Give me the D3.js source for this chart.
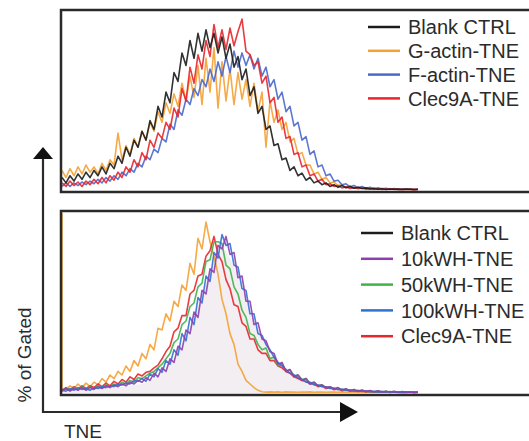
<!DOCTYPE html>
<html>
<head>
<meta charset="utf-8">
<script src="https://cdn.jsdelivr.net/npm/d3@7/dist/d3.min.js"></script>
<style>
body{margin:0;background:#fff;}
svg{display:block;}
text{font-family:"Liberation Sans", Arial, sans-serif; fill:#2b2b2b;}
</style>
</head>
<body>
<svg id="chart" width="529" height="441"></svg>
<script>
"use strict";

//
//	Histogram counts (% of max), one value per channel
//
var topBlank = [7,4,8,5,9,6,10,7,11,8, 13,9,15,12,19,15,24,19,28,24, 33,28,39,34,47,41,55,49,66,61,
	77,70,84,74,88,78,90,80,88,77, 86,74,82,69,75,62,68,53,58,43, 47,34,36,25,26,17,18,11,13,8,
	9.5,5.5,7,4,5,3,4,2,3,1.5, 2.5,1.2,2,1,1.5,0.8,1.2,0.6,0.9,0.4, 0.7,0.3,0.6,0.4,0.5,0.3,0.5,0.4,0.3,0.4];
var topGactin = [11,7,12,8,13,9,14,10,13,9, 15,11,17,14,32,17,25,20,29,24, 33,28,38,33,44,38,49,43,54,47,
	60,50,64,52,70,48,74,55,80,46, 72,50,68,48,66,51,62,47,60,44, 55,24,50,38,45,34,38,27,29,20,
	21,14,14,9,10,6,7,4,4.5,2.5, 3,1.5,2.2,1,1.6,0.8,1.2,0.6,0.9,0.4, 1.0,0.5,0.8,0.3,0.6,0.4,0.5,0.3,0.4,0.3];
var topFactin = [2,4,2,4,2.5,4.5,3,5,3.5,6, 4,7,5,8,6,10,8,12,10,15, 13,19,17,23,21,29,27,37,34,45,
	42,51,48,57,53,62,58,68,61,72, 64,75,66,78,69,77,70,76,68,74, 64,69,58,62,51,55,44,47,36,38,
	28,30,20,22,13,14,8,9,5,5.5, 3,3.5,1.8,2.5,1.2,2,0.8,1.5,0.6,1.2, 0.5,1,0.4,0.8,0.3,0.6,0.4,0.5,0.3,0.4];
var topClec = [4,2,5,2.5,4.5,2,5,3,6,3.5, 7,4,8,5.5,10,7,13,10,17,13, 21,17,28,24,32,29,38,34,46,41,
	57,50,69,60,76,68,84,75,93,80, 90,79,91,81,89,96,78,76,70,72, 60,64,49,52,38,41,29,30,20,21,
	13,14,8,9,5,6,3,3.5,2,2.5, 1.2,1.8,0.9,1.4,0.7,1.1,0.5,0.9,0.4,0.7, 0.3,0.6,0.4,0.5,0.3,0.4,0.3,0.4,0.2,0.3];

var botBlank = [1,1,1.2,1.2,1.4,1.5,1.6,1.8,2,2.2, 2.4,2.6,2.8,3,3.2,3.5,3.8,4.1,4.4,4.7, 5,5.8,6.8,8,9.5,12,14,16.5,19.5,23,
	28,32,37,42,48,55,61,67,73,77, 80,79,75,70,64,58,52,46,40,36, 32,28,24.5,21,18,16,14,12,10.5,9,
	8,7,6,5,4.5,4,3.5,3,2.7,2.4, 2.1,1.9,1.6,1.5,1.4,1.3,1.2,1.1,1,0.95, 0.9,0.85,0.8,0.75,0.7,0.65,0.6,0.55,0.5,0.45];
var botOrange = [100,2,4,2.5,5,3,5.5,3.5,6,4.5, 8,6,10,8,12,10,15,12,18,15, 22,19,27,24,36,35,44,40,51,48,
	60,57,72,66,86,80,95,84,76,66, 52,44,33,27,16,12,7,5,3,1.5, 0.7,0.5,0.6,0.5,0.6,0.4,0.6,0.5,0.5,0.4,
	0.5,0.5,0.6,0.4,0.5,0.5,0.4,0.5,0.5,0.4, 0.5,0.4,0.5,0.5,0.4,0.5,0.4,0.5,0.4,0.4, 0.5,0.4,0.4,0.5,0.4,0.4,0.5,0.4,0.4,0.4];
var bot10k = [1,2.5,1,2.5,1.5,3,1.5,3,2,3.5, 2.5,4,3,4.5,3.5,5,4,6,5,7, 6,8.5,7,11,9,14,12,19,17,26,
	24,35,33,45,42,57,55,69,67,82, 80,87,77,78,64,65,51,51,38,39, 30,29,23,22,16,17,12,13,9,10,
	7,8,5,6,4,4.5,3,3.5,2.2,3, 1.6,2.4,1.2,2,1,1.6,0.8,1.4,0.7,1.2, 0.5,1,0.6,0.9,0.4,0.8,0.5,0.6,0.4,0.5];
var bot50k = [1,2.5,1.5,3,2,3.5,2,3.5,2.5,4, 3,4.5,3.5,5,4,6,5,7,6,8.5, 8,9.5,11,12,14,16,19,22,28,30,
	38,40,48,50,59,61,73,74,84,84, 83,71,69,59,55,46,42,33,32,27, 24,25,19,20,15,16,12,13,9.5,10,
	7.5,8,5.5,6,4,4.5,3,3.5,2.2,2.8, 1.6,2.2,1.2,1.8,1,1.5,0.8,1.3,0.6,1.1, 0.5,1,0.4,0.8,0.4,0.7,0.3,0.6,0.3,0.5];
var bot100k = [1.5,1,2.5,1.5,3,2,2.5,1.5,3,2.5, 3.5,3,4,3.5,5,4.5,5.5,5,7,6.5, 8,6.5,10.5,9,13.5,11.5,18,16,24,21,
	33,29,42,38,53,50,65,62,78,75, 88,82,83,71,70,58,57,44,44,33, 32,27,24,20,17,15,13,11,10,8.5,
	7.5,6,6,4.5,4.5,3.5,3.5,2.5,2.8,1.8, 2.2,1.4,1.8,1,1.5,0.8,1.2,0.6,1,0.5, 0.9,0.4,0.8,0.4,0.6,0.3,0.5,0.4,0.5,0.3];
var botClec = [1.5,3,1.5,3.5,2,4,2.5,4,3,5, 3.5,5.5,4,6.5,5,7.5,6,9,7.5,10.5, 9.5,11.5,12,14,15.5,19,23,26,34,36,
	43,43,55,57,65,66,76,79,87,77, 73,63,58,49,48,39,37,30,30,24, 22,22,18,18,15,14,12,11,9,8,
	7,6.5,5,5,3.5,4,2.5,3,1.8,2.4, 1.2,1.8,1,1.4,0.8,1.2,0.6,1,0.5,0.9, 0.4,0.8,0.3,0.6,0.3,0.5,0.3,0.4,0.2,0.4];

var topLabels = ["Blank CTRL", "G-actin-TNE", "F-actin-TNE", "Clec9A-TNE"];
var bottomLabels = ["Blank CTRL", "10kWH-TNE", "50kWH-TNE", "100kWH-TNE", "Clec9A-TNE"];
var yDomain = [0, 100];

//	colours, kept apart from the values
var topColors = ["#1c1c1c", "#f5a133", "#4a68cc", "#e8262b"];
var bottomColors = ["#1c1c1c", "#8e3fae", "#3fb34a", "#2f72d4", "#e8262b"];
var orangeColor = "#f5a133";
var blankFill = "#f2eef1";
var ink = "#2a2a2a";

var svg = d3.select("#chart");
var nChan = topBlank.length;
var xScale = d3.scaleLinear().domain([0, nChan - 1]).range([62, 418]);

//
//	Turns a value list into [channel, value] points. An off-scale first
//	channel (the pile-up at the left edge) is drawn as a straight drop.
//
function toPoints(values){
	var pts = values.map(function(v, i){ return [i, v]; });
	if(values[0] >= yDomain[1]){
		pts.splice(1, 0, [0, values[1]]);
	}
	return pts;
}

//
//	Draws one framed histogram panel with its legend
//
function drawPanel(id, y0, y1, lines, legend){
	var yScale = d3.scaleLinear().domain(yDomain).range([y1 - 2, y0 + 2]);
	var g = svg.append("g");

	g.append("clipPath").attr("id", "clip" + id)
		.append("rect").attr("x", 62).attr("y", y0 + 1).attr("width", 470).attr("height", y1 - y0 - 2);

	var plot = g.append("g").attr("clip-path", "url(#clip" + id + ")");

	var line = d3.line().x(function(d){ return xScale(d[0]); }).y(function(d){ return yScale(d[1]); });
	var area = d3.area().x(function(d){ return xScale(d[0]); }).y0(yScale(0)).y1(function(d){ return yScale(d[1]); });

	lines.forEach(function(s){
		if(s.fill){
			plot.append("path").datum(toPoints(s.values)).attr("d", area).attr("fill", s.fill).attr("stroke", "none");
		}else{
			plot.append("path").datum(toPoints(s.values)).attr("d", line)
				.attr("fill", "none").attr("stroke", s.color)
				.attr("stroke-width", 1.6).attr("stroke-opacity", 0.9)
				.attr("stroke-linejoin", "round");
		}
	});

	//	frame goes over the curves
	g.append("rect").attr("x", 61).attr("y", y0).attr("width", 500).attr("height", y1 - y0)
		.attr("fill", "none").attr("stroke", ink).attr("stroke-width", 2.5);

	var leg = g.append("g");
	legend.labels.forEach(function(lab, i){
		var yy = legend.y + i * legend.step;
		leg.append("line").attr("x1", legend.x1).attr("x2", legend.x2).attr("y1", yy).attr("y2", yy)
			.attr("stroke", legend.colors[i]).attr("stroke-width", 2.5);
		leg.append("text").attr("x", legend.tx).attr("y", yy).attr("dy", "0.36em")
			.style("font-size", "20px").text(lab);
	});
}

drawPanel("top", 10, 192, [
	{values: topGactin, color: topColors[1]},
	{values: topFactin, color: topColors[2]},
	{values: topClec, color: topColors[3]},
	{values: topBlank, color: topColors[0]}
], {labels: topLabels, colors: topColors, x1: 368, x2: 400, tx: 408, y: 27, step: 23.8});

drawPanel("bot", 211, 395, [
	{values: botBlank, fill: blankFill},
	{values: botOrange, color: orangeColor},
	{values: botClec, color: bottomColors[4]},
	{values: bot50k, color: bottomColors[2]},
	{values: bot100k, color: bottomColors[3]},
	{values: bot10k, color: bottomColors[1]}
], {labels: bottomLabels, colors: bottomColors, x1: 361, x2: 393, tx: 401, y: 233, step: 25.8});

//
//	Axis arrows and their titles
//
var axes = svg.append("g");
axes.append("line").attr("x1", 43).attr("y1", 157).attr("x2", 43).attr("y2", 413)
	.attr("stroke", ink).attr("stroke-width", 2.2);
axes.append("line").attr("x1", 42).attr("y1", 412).attr("x2", 342).attr("y2", 412)
	.attr("stroke", ink).attr("stroke-width", 2.2);
axes.append("path").attr("d", "M43,147L53,159L33,159Z").attr("fill", "#111");
axes.append("path").attr("d", "M358,412L340,402L340,422Z").attr("fill", "#111");

axes.append("text").attr("transform", "translate(31,355) rotate(-90)")
	.attr("text-anchor", "middle").style("font-size", "19px").text("% of Gated");
axes.append("text").attr("x", 64).attr("y", 438).style("font-size", "19px").text("TNE");
</script>
</body>
</html>
